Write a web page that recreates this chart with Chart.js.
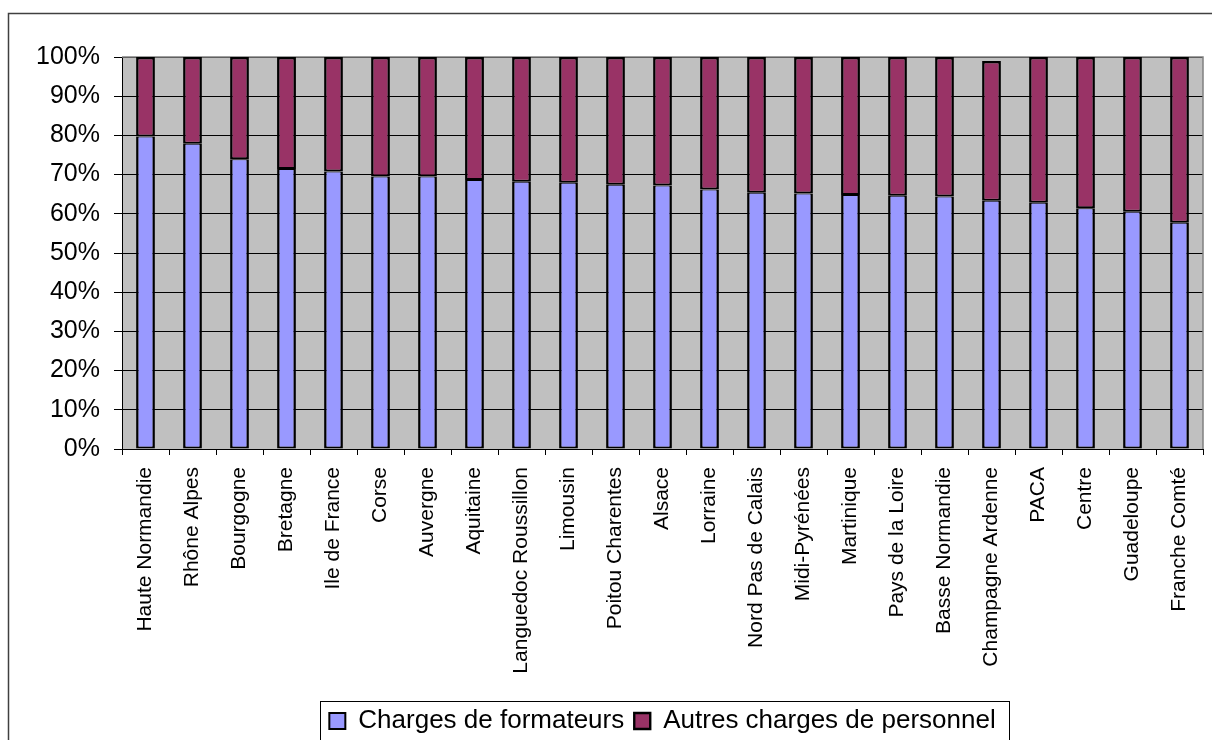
<!DOCTYPE html>
<html>
<head>
<meta charset="utf-8">
<script src="https://cdn.jsdelivr.net/npm/chart.js@4.4.1/dist/chart.umd.min.js"></script>
<style>
    html, body { margin: 0; padding: 0; background: #fff; overflow: hidden; }
    #wrap { width: 1320px; height: 780px; position: relative; }
</style>
</head>
<body>
<div id="wrap"><canvas id="chart"></canvas></div>
<script>
// Régions (axe X)
const regions = ['Haute Normandie', 'Rhône Alpes', 'Bourgogne', 'Bretagne', 'Ile de France', 'Corse',
    'Auvergne', 'Aquitaine', 'Languedoc Roussillon', 'Limousin', 'Poitou Charentes', 'Alsace',
    'Lorraine', 'Nord Pas de Calais', 'Midi-Pyrénées', 'Martinique', 'Pays de la Loire',
    'Basse Normandie', 'Champagne Ardenne', 'PACA', 'Centre', 'Guadeloupe', 'Franche Comté'];

// Parts en %
const chargesFormateurs = [79.7, 77.9, 73.9, 71.4, 70.8, 69.5, 69.5, 68.6, 68.2, 67.9, 67.4, 67.2,
    66.2, 65.4, 65.2, 64.8, 64.6, 64.4, 63.3, 62.8, 61.4, 60.5, 57.7];
const autresCharges = [20.3, 22.1, 26.1, 28.6, 29.2, 30.5, 30.5, 31.4, 31.8, 32.1, 32.6, 32.8,
    33.8, 34.6, 34.8, 35.2, 35.4, 35.6, 35.7, 37.2, 38.6, 39.5, 42.3];

const yTicks = [0, 10, 20, 30, 40, 50, 60, 70, 80, 90, 100];

const FONT = '"Liberation Sans", Arial, sans-serif';
Chart.defaults.font.family = FONT;
Chart.defaults.color = '#000';

// fond gris + cadre du graphique + cadre de la légende
const excelLook = {
    id: 'excelLook',
    beforeDraw(chart) {
        const { ctx, chartArea: a } = chart;
        ctx.save();
        ctx.fillStyle = '#c0c0c0';
        ctx.fillRect(a.left, a.top, a.right - a.left, a.bottom - a.top);
        ctx.strokeStyle = '#404040';
        ctx.lineWidth = 1.5;
        ctx.strokeRect(8.5, 13.5, chart.width + 50, chart.height + 50);
        ctx.restore();
    },
    beforeDatasetsDraw(chart) {
        const { ctx, chartArea: a } = chart;
        ctx.save();
        ctx.strokeStyle = '#808080';
        ctx.lineWidth = 1.5;
        ctx.beginPath();
        ctx.moveTo(a.left, a.top);
        ctx.lineTo(a.right, a.top);
        ctx.lineTo(a.right, a.bottom);
        ctx.stroke();
        ctx.restore();
    },
    afterDraw(chart) {
        const lg = chart.legend;
        const boxes = lg.legendHitBoxes;
        if (!boxes || !boxes.length) return;
        const last = boxes[boxes.length - 1];
        const ctx = chart.ctx;
        ctx.save();
        ctx.strokeStyle = '#000';
        ctx.lineWidth = 1;
        const x0 = Math.round(boxes[0].left - 9) + 0.5;
        const x1 = Math.round(last.left + last.width + 13) + 0.5;
        const y0 = Math.round(lg.top + 3) + 0.5;
        ctx.strokeRect(x0, y0, x1 - x0, 200);
        ctx.restore();
    }
};

const ctx = document.getElementById('chart').getContext('2d');
new Chart(ctx, {
    type: 'bar',
    data: {
        labels: regions,
        datasets: [
            {
                label: 'Charges de formateurs',
                data: chargesFormateurs,
                backgroundColor: '#9999ff',
                borderColor: '#000',
                borderWidth: { top: 1, left: 2.5, right: 2.5, bottom: 2 },
                borderSkipped: false,
                barPercentage: 0.4,
                categoryPercentage: 1
            },
            {
                label: 'Autres charges de personnel',
                data: autresCharges,
                backgroundColor: '#993366',
                borderColor: '#000',
                borderWidth: { top: 2.5, left: 2.5, right: 2.5, bottom: 2 },
                borderSkipped: false,
                barPercentage: 0.4,
                categoryPercentage: 1
            }
        ]
    },
    options: {
        responsive: true,
        maintainAspectRatio: false,
        animation: false,
        layout: {
            padding: { left: 0, top: 57, right: 117, bottom: 36 }
        },
        plugins: {
            tooltip: { enabled: false },
            legend: {
                position: 'bottom',
                fullSize: false,
                labels: {
                    font: { size: 26 },
                    color: '#000',
                    boxWidth: 16,
                    boxHeight: 16,
                    padding: 10
                }
            }
        },
        scales: {
            x: {
                stacked: true,
                grid: {
                    drawOnChartArea: false,
                    drawTicks: true,
                    tickLength: 6,
                    offset: true,
                    color: '#000'
                },
                border: { display: true, color: '#000', width: 1 },
                ticks: {
                    minRotation: 90,
                    maxRotation: 90,
                    autoSkip: false,
                    padding: 12,
                    font: { size: 21 },
                    color: '#000'
                },
                afterFit(scale) { scale.height = 249; }
            },
            y: {
                stacked: true,
                min: 0,
                max: 100,
                afterBuildTicks(scale) { scale.ticks = yTicks.map(v => ({ value: v })); },
                grid: {
                    color: '#000',
                    lineWidth: 1,
                    tickLength: 8
                },
                border: { display: true, color: '#000', width: 1 },
                ticks: {
                    padding: 14,
                    font: { size: 25 },
                    color: '#000',
                    callback: v => v + '%'
                },
                afterFit(scale) { scale.width = 122; }
            }
        }
    },
    plugins: [excelLook]
});
</script>
</body>
</html>
